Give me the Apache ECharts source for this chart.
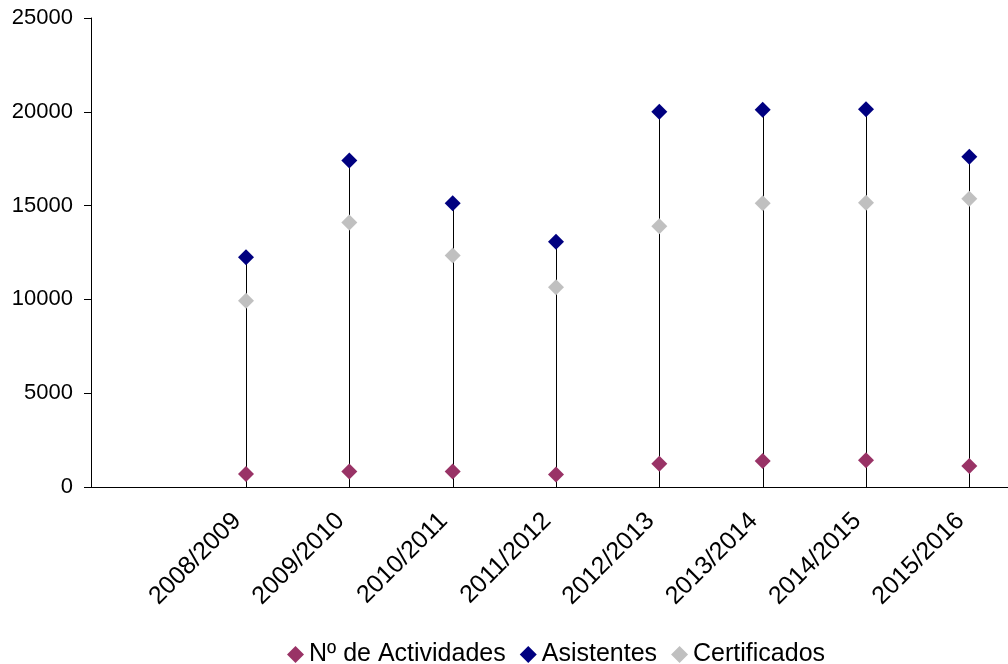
<!DOCTYPE html>
<html>
<head>
<meta charset="utf-8">
<script src="https://cdn.jsdelivr.net/npm/echarts@6/dist/echarts.min.js"></script>
<style>
html,body{margin:0;padding:0;background:#fff;overflow:hidden;}
#chart{width:1021px;height:664px;}
</style>
</head>
<body>
<div id="chart"></div>
<script>
var categories = ['', '2008/2009', '2009/2010', '2010/2011', '2011/2012', '2012/2013', '2013/2014', '2014/2015', '2015/2016'];
var actividades = [null, 690, 820, 820, 660, 1240, 1390, 1420, 1120];
var asistentes = [null, 12250, 17400, 15130, 13070, 20000, 20110, 20140, 17600];
var certificados = [null, 9930, 14100, 12340, 10650, 13900, 15130, 15150, 15360];
var yTicks = [0, 5000, 10000, 15000, 20000, 25000];

var FONT = "'Liberation Sans', Arial, sans-serif";
var chart = echarts.init(document.getElementById('chart'), null, {renderer: 'canvas'});

var dropData = [];
for (var i = 0; i < categories.length; i++) {
  if (asistentes[i] != null) dropData.push([i, asistentes[i]]);
}

chart.setOption({
  animation: false,
  backgroundColor: '#fff',
  textStyle: {fontFamily: FONT},
  grid: {left: 91, top: 18, width: 930, height: 469, containLabel: false},
  legend: {
    left: 282,
    top: 637,
    itemWidth: 17,
    itemHeight: 17,
    itemGap: 14,
    textStyle: {fontFamily: FONT, fontSize: 25, color: '#000'},
    data: [
      {name: 'Nº de Actividades', icon: 'diamond'},
      {name: 'Asistentes', icon: 'diamond'},
      {name: 'Certificados', icon: 'diamond'}
    ]
  },
  xAxis: {
    type: 'category',
    data: categories,
    boundaryGap: true,
    axisLine: {show: true, lineStyle: {color: '#000', width: 1}},
    axisTick: {show: false},
    splitLine: {show: false},
    axisLabel: {
      rotate: 45,
      interval: 0,
      margin: 39,
      verticalAlign: 'bottom',
      color: '#000',
      fontFamily: FONT,
      fontSize: 25
    }
  },
  yAxis: {
    type: 'value',
    min: yTicks[0],
    max: yTicks[yTicks.length - 1],
    interval: yTicks[1] - yTicks[0],
    axisLine: {show: true, lineStyle: {color: '#000', width: 1}},
    axisTick: {show: true, inside: false, length: 7, lineStyle: {color: '#000'}},
    splitLine: {show: false},
    axisLabel: {
      margin: 18, color: '#000', fontFamily: FONT, fontSize: 22,
      formatter: function (v) { return String(v); }
    }
  },
  series: [
    {
      type: 'custom',
      name: 'drop',
      silent: true,
      z: 1,
      data: dropData,
      renderItem: function (params, api) {
        var top = api.coord([api.value(0), api.value(1)]);
        var bot = api.coord([api.value(0), 0]);
        var x = Math.round(top[0]) + 0.5;
        return {
          type: 'line',
          shape: {x1: x, y1: top[1], x2: x, y2: bot[1]},
          style: {stroke: '#000', lineWidth: 1}
        };
      }
    },
    {
      type: 'scatter',
      name: 'Nº de Actividades',
      symbol: 'diamond',
      symbolSize: 16,
      z: 3,
      itemStyle: {color: '#993366', opacity: 1},
      data: actividades
    },
    {
      type: 'scatter',
      name: 'Asistentes',
      symbol: 'diamond',
      symbolSize: 16,
      z: 3,
      itemStyle: {color: '#000080', opacity: 1},
      data: asistentes
    },
    {
      type: 'scatter',
      name: 'Certificados',
      symbol: 'diamond',
      symbolSize: 16,
      z: 3,
      itemStyle: {color: '#C0C0C0', opacity: 1},
      data: certificados
    }
  ]
});
</script>
</body>
</html>
